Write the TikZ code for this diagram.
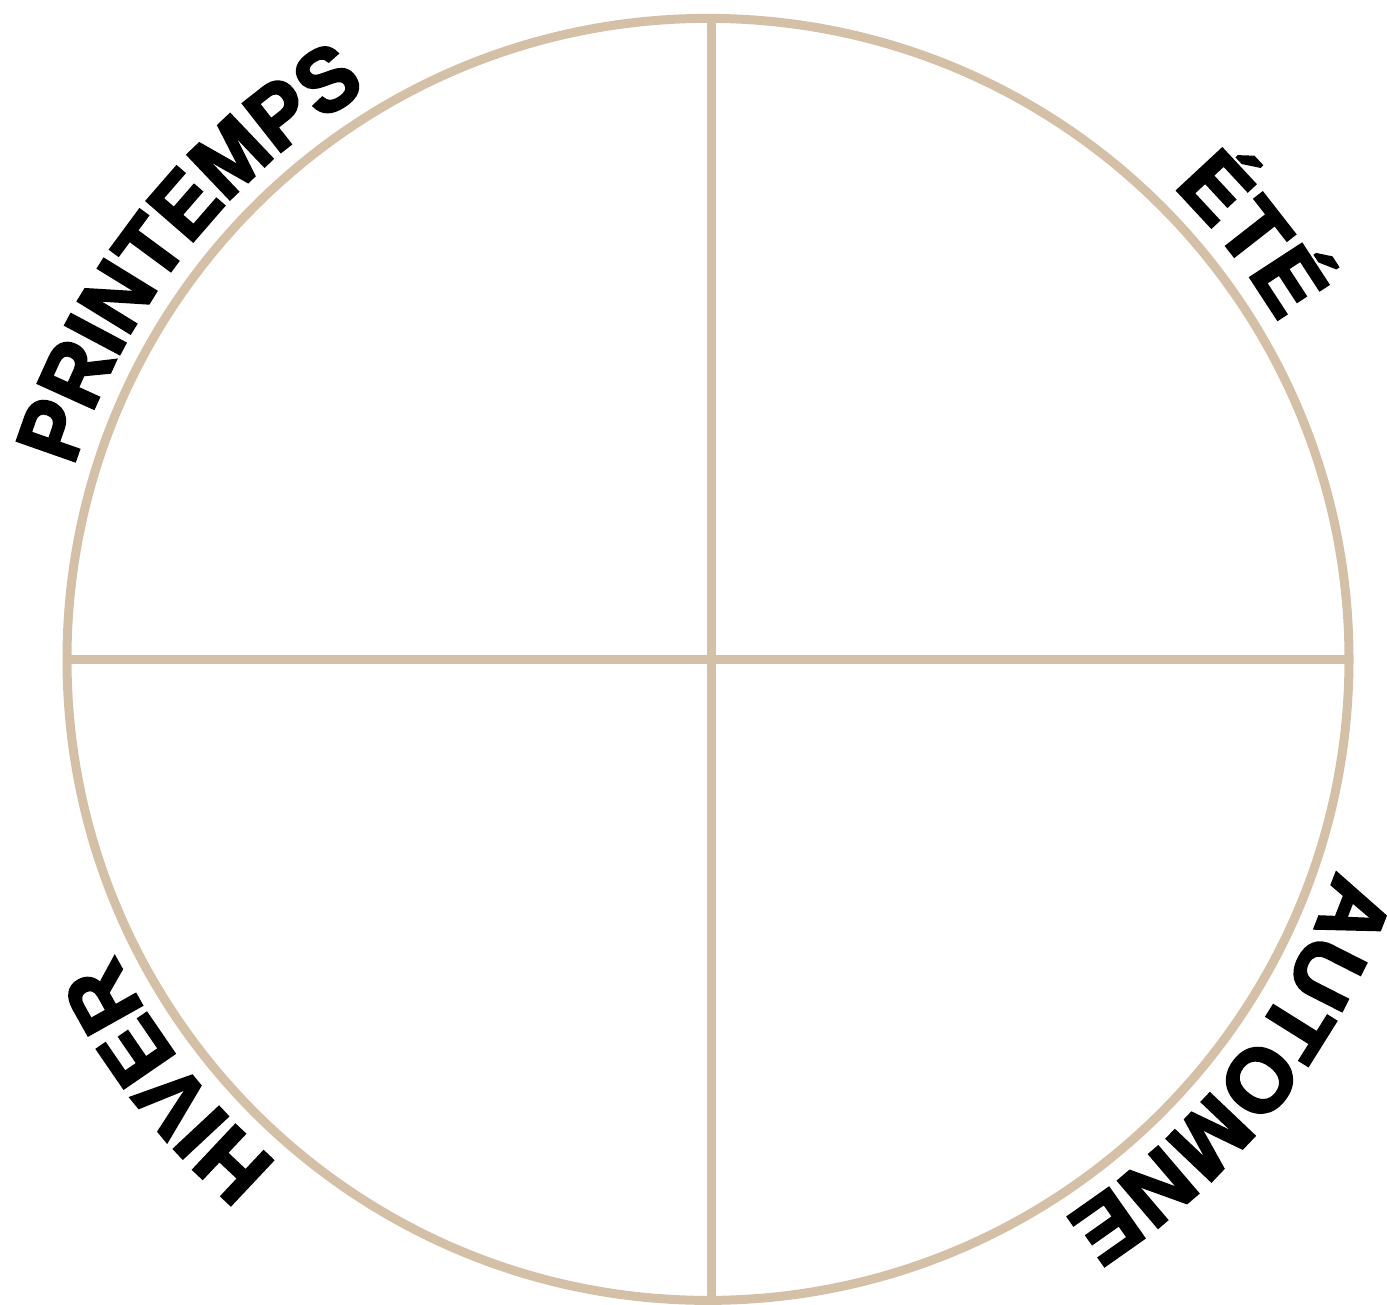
\documentclass[tikz,border=0pt]{standalone}
\usepackage{fontspec}
\setsansfont{Liberation Sans}[BoldFeatures={FakeBold=3}]
\newfontfamily\springfont{Liberation Sans}[BoldFeatures={FakeBold=3,FakeStretch=0.94}]
\newfontfamily\winterfont{Liberation Sans}[BoldFeatures={FakeBold=3,FakeStretch=0.98}]
\usetikzlibrary{decorations.text}
\definecolor{ringtan}{RGB}{212,192,166}
\begin{document}
\begin{tikzpicture}[x=1pt,y=1pt,
  ringline/.style={draw=ringtan,line width=9pt},
  seasonlabel/.style 2 args={decorate,decoration={text along path,text align=center,
     text={|#1\bfseries\fontsize{89}{89}\selectfont|#2}}}]
\useasboundingbox (0,0) rectangle (1387,1305);
\coordinate (C) at (708,645.6);
\coordinate (top) at (711,1286.6);
\coordinate (bot) at (711,4.6);
\coordinate (left) at (67,645.6);
\coordinate (right) at (1349,645.6);
\draw[ringline] (C) circle[radius=641];
\draw[ringline] (top) -- (bot);
\draw[ringline] (left) -- (right);
\path[seasonlabel={\springfont}{PRINTEMPS}] (C) ++(182:663) arc[start angle=182,end angle=102,radius=663];
\path[seasonlabel={\sffamily}{ÉTÉ}] (C) ++(78:663) arc[start angle=78,end angle=-2,radius=663];
\path[seasonlabel={\sffamily}{AUTOMNE}] (C) ++(2:663) arc[start angle=2,end angle=-78,radius=663];
\path[seasonlabel={\winterfont}{HIVER}] (C) ++(258:663) arc[start angle=258,end angle=178,radius=663];
\end{tikzpicture}
\end{document}
